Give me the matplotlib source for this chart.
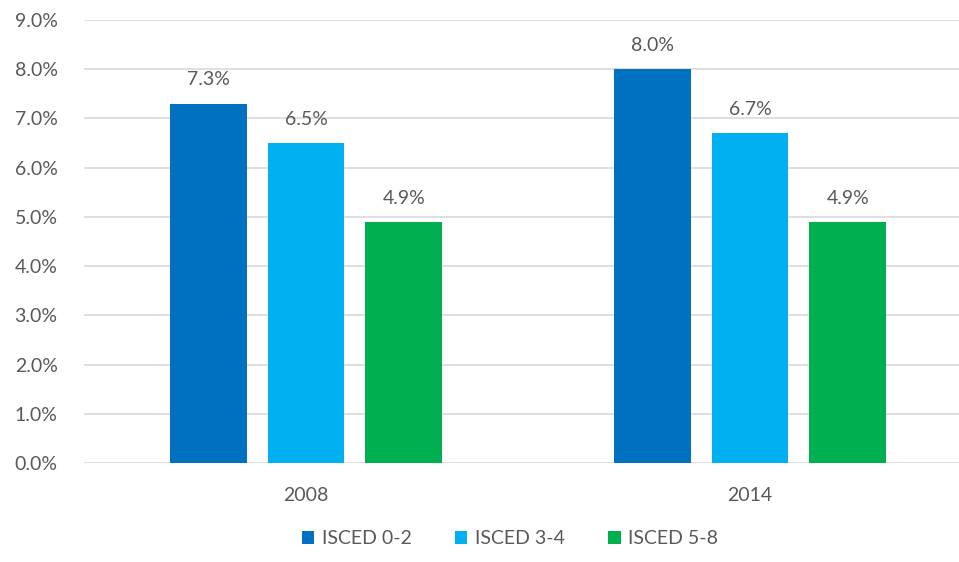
import matplotlib.pyplot as plt
import numpy as np

years = ["2008", "2014"]
series = ["ISCED 0-2", "ISCED 3-4", "ISCED 5-8"]
isced_0_2 = [7.3, 8.0]
isced_3_4 = [6.5, 6.7]
isced_5_8 = [4.9, 4.9]
colors = ["#0070C0", "#00B0F0", "#00B050"]

plt.rcParams['font.family'] = ['Lato', 'DejaVu Sans']
text_color = "#595959"

fig = plt.figure(figsize=(9.59, 5.62), dpi=100)
ax = fig.add_axes([84 / 959, 99 / 562, 888 / 959, 443 / 562])

x = np.arange(len(years))
offsets = [-0.22, 0.0, 0.22]
width = 0.173
for vals, off, col, name in zip([isced_0_2, isced_3_4, isced_5_8], offsets, colors, series):
    bars = ax.bar(x + off, vals, width, color=col, label=name, zorder=3)
    for b, v in zip(bars, vals):
        ax.annotate(f"{v:.1f}%", (b.get_x() + b.get_width() / 2, v),
                    xytext=(0, 11), textcoords="offset points",
                    ha="center", va="bottom", fontsize=14, color=text_color)

ax.set_xlim(-0.5, 1.5)
ax.set_ylim(0, 9)
ax.set_yticks(np.arange(0, 9.1, 1))
ax.set_yticklabels([f"{t:.1f}%" for t in np.arange(0, 9.1, 1)])
ax.set_xticks(x)
ax.set_xticklabels(years)
ax.tick_params(axis="both", length=0, labelsize=14, labelcolor=text_color)
ax.tick_params(axis="y", pad=19)
ax.tick_params(axis="x", pad=17)
ax.grid(axis="y", color="#D9D9D9", linewidth=1.2, zorder=0)
for s in ax.spines.values():
    s.set_visible(False)

fig.legend(loc="lower center", bbox_to_anchor=(510 / 959, -0.005), ncol=3, frameon=False,
           fontsize=14, handlelength=0.65, handleheight=0.65, handletextpad=0.4,
           columnspacing=2.2, labelcolor=text_color)

fig.savefig("out.png", dpi=100)
